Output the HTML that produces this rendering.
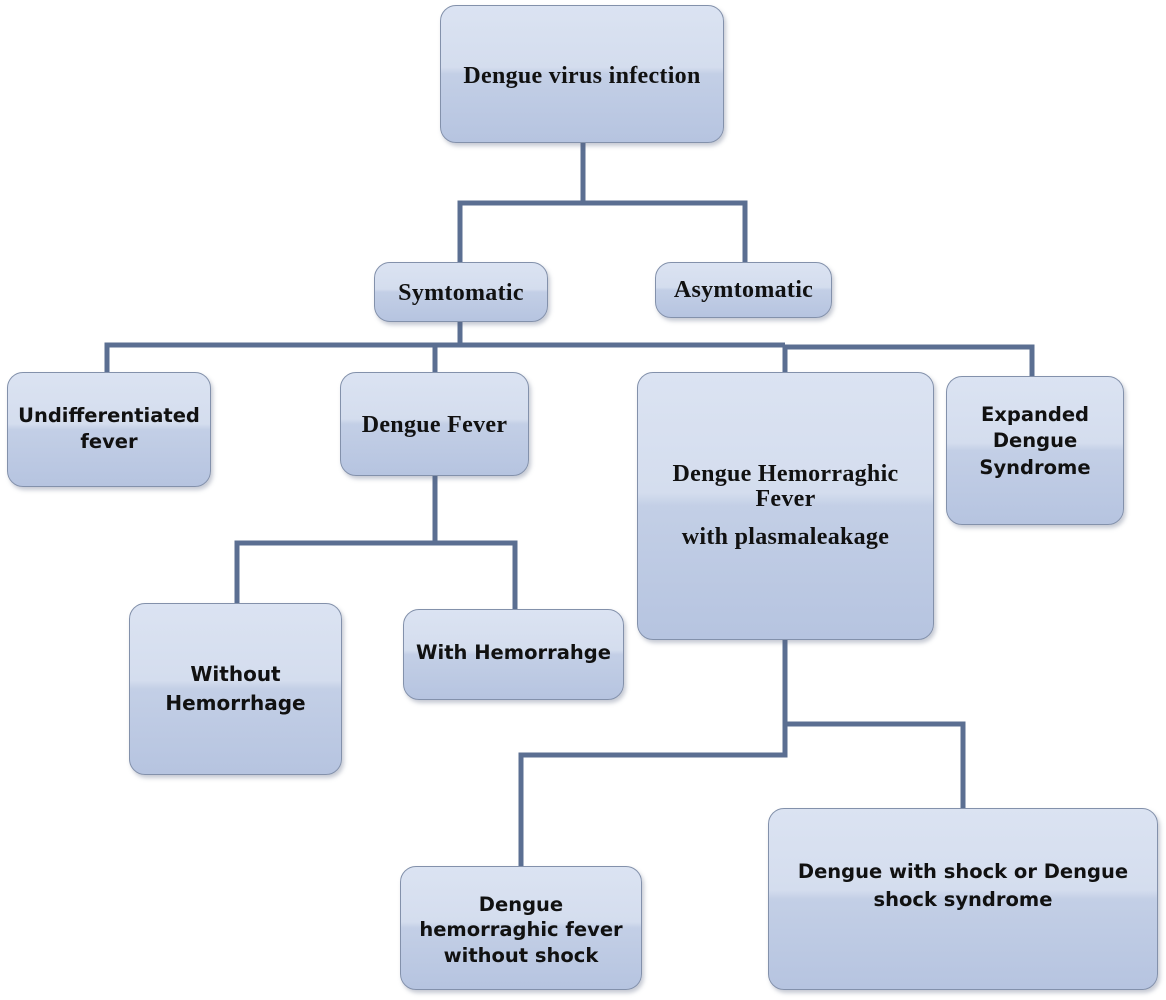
<!DOCTYPE html>
<html><head><meta charset="utf-8"><style>
body{margin:0;width:1166px;height:1000px;background:#fff;position:relative;overflow:hidden}
.b{position:absolute;box-sizing:border-box;border:1.5px solid #8391ab;border-radius:16px;
background:linear-gradient(#dbe3f2 0%,#d4ddee 45%,#c3cfe6 50%,#b6c4e0 100%);
box-shadow:2px 3px 4px rgba(90,100,130,.35);display:flex;align-items:center;justify-content:center;
text-align:center;color:#111;font-weight:bold;line-height:1.3}
.s{font-family:"Liberation Serif",serif;font-size:24px;letter-spacing:.3px}
.n{font-family:"DejaVu Sans","Liberation Sans",sans-serif;font-size:19.5px}
svg{position:absolute;left:0;top:0}
</style></head><body>
<svg width="1166" height="1000"><g stroke="#5b6f92" stroke-width="5" fill="none" stroke-linejoin="miter">
<path d="M583 143V203M460 262V203H745V262"/>
<path d="M460 322V345M107 372V345H785M785 372V347H1032V376M435 345V372"/>
<path d="M435 476V543M237 603V543H515V609"/>
<path d="M785 640V755H521V866M785 724H963V808"/>
</g></svg>
<div class="b s" style="left:440px;top:5px;width:284px;height:138px;padding-top:6px">Dengue virus infection</div>
<div class="b s" style="left:374px;top:262px;width:174px;height:60px;padding-top:4px">Symtomatic</div>
<div class="b s" style="left:655px;top:262px;width:177px;height:56px;padding-top:2px">Asymtomatic</div>
<div class="b n" style="left:7px;top:372px;width:204px;height:115px;padding-bottom:2px">Undifferentiated<br>fever</div>
<div class="b s" style="left:340px;top:372px;width:189px;height:104px;padding-bottom:0px;padding-top:4px">Dengue Fever</div>
<div class="b s" style="left:637px;top:372px;width:297px;height:268px;padding-bottom:0px;line-height:1.05"><div>Dengue Hemorraghic<br>Fever<div style="margin-top:12px">with plasmaleakage</div></div></div>
<div class="b n" style="left:946px;top:376px;width:178px;height:149px;padding-bottom:18px;line-height:1.35">Expanded<br>Dengue<br>Syndrome</div>
<div class="b n" style="left:129px;top:603px;width:213px;height:172px;font-size:20px;line-height:1.45">Without<br>Hemorrhage</div>
<div class="b n" style="left:403px;top:609px;width:221px;height:91px;padding-bottom:4px">With Hemorrahge</div>
<div class="b n" style="left:400px;top:866px;width:242px;height:124px;padding-top:4px">Dengue<br>hemorraghic fever<br>without shock</div>
<div class="b n" style="left:768px;top:808px;width:390px;height:182px;padding-bottom:26px;line-height:1.45">Dengue with shock or Dengue<br>shock syndrome</div>
</body></html>
